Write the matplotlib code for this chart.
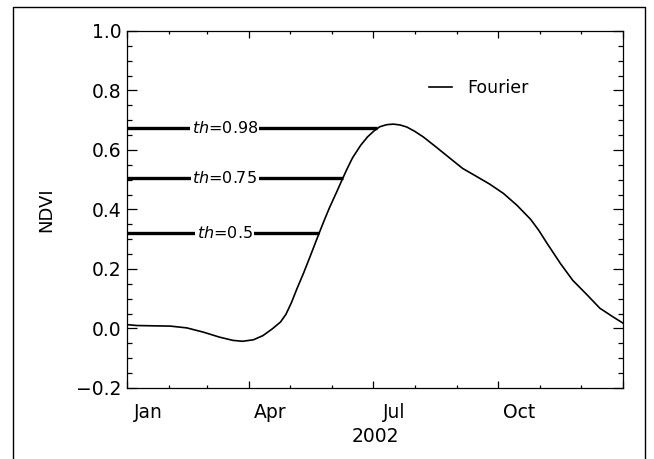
import numpy as np
import matplotlib
matplotlib.use("Agg")
from matplotlib import pyplot as plt
from matplotlib.lines import Line2D
from matplotlib.ticker import MultipleLocator

# Fourier-fitted NDVI curve (day of year 2002)
day = [0, 7, 19, 32, 44, 56, 68, 78, 85, 93, 100, 107, 113, 117, 121, 125,
       130, 135, 141, 145, 149, 154, 158, 162, 166, 172, 177, 182, 186, 191,
       196, 201, 206, 212, 218, 228, 238, 247, 258, 267, 277, 287, 297, 303,
       309, 319, 328, 339, 348, 358, 365]
ndvi = [0.013, 0.010, 0.009, 0.008, 0.002, -0.012, -0.029, -0.040, -0.043,
        -0.038, -0.024, -0.001, 0.022, 0.048, 0.087, 0.133, 0.187, 0.245,
        0.316, 0.362, 0.406, 0.456, 0.497, 0.537, 0.574, 0.616, 0.644,
        0.665, 0.678, 0.685, 0.687, 0.684, 0.677, 0.662, 0.644, 0.608, 0.571,
        0.538, 0.509, 0.485, 0.454, 0.414, 0.367, 0.330, 0.287, 0.218, 0.162,
        0.111, 0.068, 0.038, 0.018]

thresholds = [0.98, 0.75, 0.5]
th_labels = ["0.98", "0.75", "0.5"]

month_starts = [0, 31, 59, 90, 120, 151, 181, 212, 243, 273, 304, 334, 365]
quarter_starts = [0, 90, 181, 273, 365]
quarter_names = ["Jan", "Apr", "Jul", "Oct"]

fig = plt.figure(figsize=(6.54, 4.59), dpi=100)
ax = fig.add_axes([0.1942, 0.1547, 0.7584, 0.7778])

ax.plot(day, ndvi, color="black", lw=1.2, label="Fourier")

# threshold lines: fraction of the seasonal amplitude
vmin, vmax = min(ndvi), max(ndvi)
ipk = int(np.argmax(ndvi))
imn = int(np.argmin(ndvi))
for th, lab in zip(thresholds, th_labels):
    level = vmin + th * (vmax - vmin)
    x_cross = np.interp(level, ndvi[imn:ipk + 1], day[imn:ipk + 1])
    ax.plot([0, x_cross], [level, level], color="black", lw=2.4,
            solid_capstyle="butt", zorder=3)
    ax.text(72, level, r"$th$=" + lab, ha="center", va="center",
            fontsize=11.5, zorder=4,
            bbox=dict(facecolor="white", edgecolor="none", pad=1.0))

ax.set_xlim(0, 365)
ax.set_ylim(-0.2, 1.0)

ax.yaxis.set_minor_locator(MultipleLocator(0.05))
ax.set_yticks([-0.2, 0.0, 0.2, 0.4, 0.6, 0.8, 1.0])
ax.set_yticklabels(["\u22120.2", "0.0", "0.2", "0.4", "0.6", "0.8", "1.0"])

ax.set_xticks(quarter_starts)
ax.set_xticks(month_starts, minor=True)
ax.set_xticklabels([])

ax.tick_params(axis="both", which="both", direction="in",
               top=True, right=True, width=0.9, labelsize=13.5)
ax.tick_params(axis="y", which="major", length=7.2, pad=4)
ax.tick_params(axis="y", which="minor", length=3.6)
ax.tick_params(axis="x", which="major", length=4.8)
ax.tick_params(axis="x", which="minor", length=2.4)

for i, name in enumerate(quarter_names):
    mid = (month_starts[3 * i] + month_starts[3 * i + 1]) / 2
    ax.text(mid, -0.07, name, transform=ax.get_xaxis_transform(),
            ha="center", va="center", fontsize=13.5)

ax.text(0.5, -0.137, "2002", transform=ax.transAxes, ha="center",
        va="center", fontsize=13.5)
ax.set_ylabel("NDVI", fontsize=13, labelpad=15)

for s in ax.spines.values():
    s.set_linewidth(0.9)

ax.legend(loc="upper left", bbox_to_anchor=(0.578, 0.91), frameon=False,
          fontsize=12.5, handlelength=1.3, handletextpad=0.9)

# outer frame around the figure
fx = [0.0199, 0.0199, 0.9862, 0.9862]
fy = [0.0, 0.9847, 0.9847, 0.0]
fig.add_artist(Line2D(fx, fy, color="black", lw=1.0,
                      transform=fig.transFigure))

fig.savefig("out.png", dpi=100)
